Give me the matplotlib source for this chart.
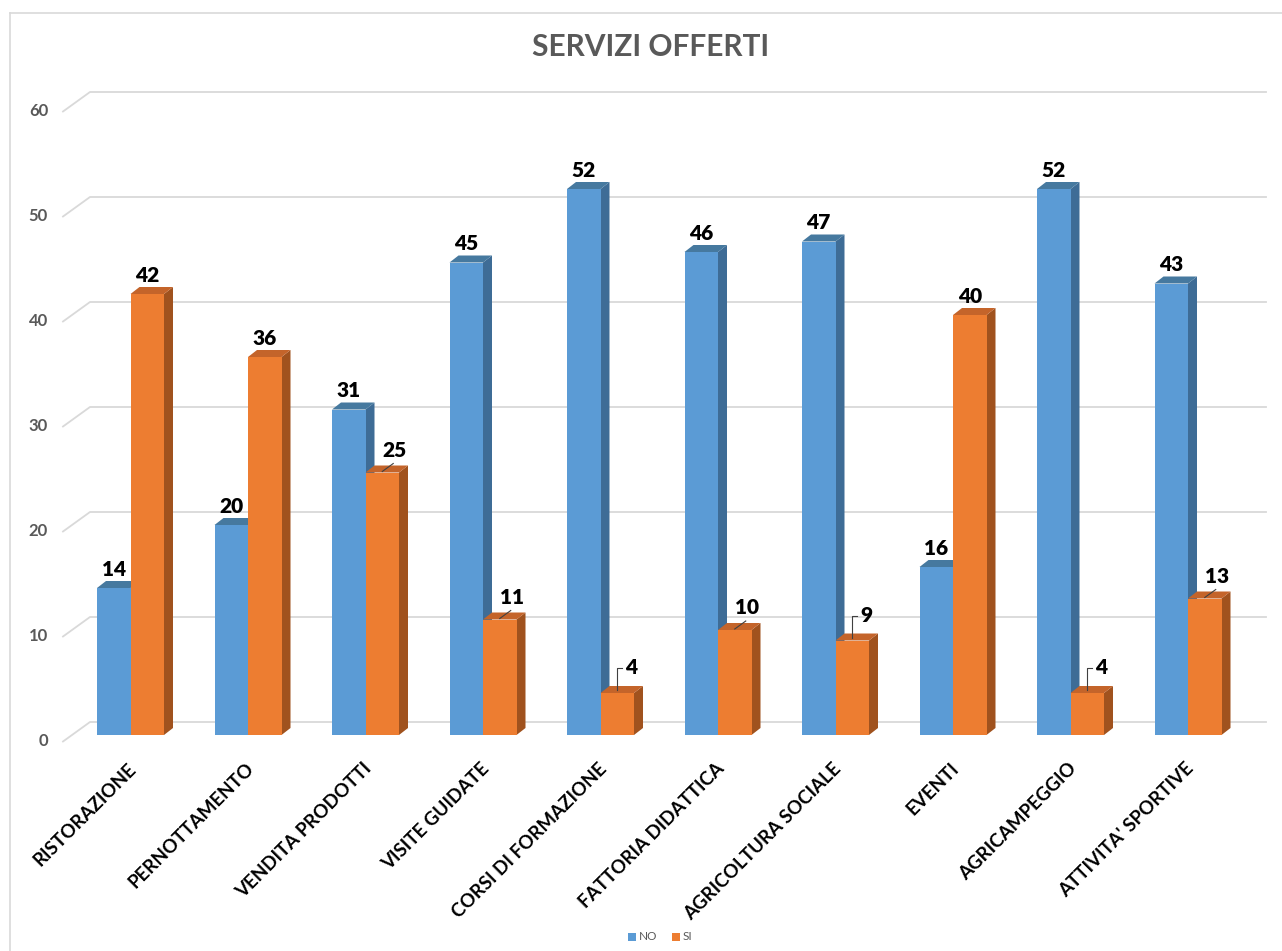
import matplotlib.pyplot as plt
from matplotlib.patches import Polygon, Rectangle

# data
categories = ["RISTORAZIONE", "PERNOTTAMENTO", "VENDITA PRODOTTI", "VISITE GUIDATE",
              "CORSI DI FORMAZIONE", "FATTORIA DIDATTICA", "AGRICOLTURA SOCIALE",
              "EVENTI", "AGRICAMPEGGIO", "ATTIVITA' SPORTIVE"]
no_values = [14, 20, 31, 45, 52, 46, 47, 16, 52, 43]
si_values = [42, 36, 25, 11, 4, 10, 9, 40, 4, 13]
y_ticks = [0, 10, 20, 30, 40, 50, 60]
series_names = ["NO", "SI"]

plt.rcParams['font.family'] = ['Lato', 'DejaVu Sans']

W, H = 1282, 951
fig = plt.figure(figsize=(W / 100, H / 100), dpi=100)
ax = fig.add_axes([0, 0, 1, 1])

# one category = 117.5 px, one unit = 10.5 px (front face of the bars)
sx, sy = 117.5, 10.5
x0_px, y0_px = 130.5, 735
ax.set_xlim(-x0_px / sx, (W - x0_px) / sx)
ax.set_ylim((y0_px - H) / sy, y0_px / sy)
ax.axis('off')


def X(p):
    return (p - x0_px) / sx


def Y(p):
    return (y0_px - p) / sy


def px(n):
    return n / sx


def py(n):
    return n / sy


bw = px(33.5)
dx, dy = px(9), py(7)
grid_c = '#D9D9D9'
text_c = '#595959'

# frame
ax.plot([X(10), X(10)], [Y(13), Y(H + 5)], color=grid_c, lw=1.2, zorder=0)
ax.plot([X(10), X(W + 5)], [Y(13), Y(13)], color=grid_c, lw=1.2, zorder=0)

# back wall gridlines with perspective floor segment
for t in y_ticks:
    ax.plot([X(63), X(90), X(1266)], [t - py(6.5), t + py(13), t + py(13)],
            color=grid_c, lw=1.3, zorder=1)
    ax.text(X(48), t - py(6), str(t), ha='right', va='center',
            fontsize=12, fontweight='bold', color=text_c)


def draw_bar(x_left, v, front, side, top):
    ax.add_patch(Polygon([(x_left + bw, 0), (x_left + bw + dx, dy),
                          (x_left + bw + dx, v + dy), (x_left + bw, v)],
                         closed=True, facecolor=side, edgecolor='none', zorder=2))
    ax.add_patch(Polygon([(x_left, v), (x_left + dx, v + dy),
                          (x_left + bw + dx, v + dy), (x_left + bw, v)],
                         closed=True, facecolor=top, edgecolor='none', zorder=2))
    ax.add_patch(Rectangle((x_left, 0), bw, v, facecolor=front,
                           edgecolor='none', zorder=2))


blue = ('#5B9BD5', '#3E6C96', '#46799F')
orange = ('#ED7D31', '#A0521E', '#C4642A')

for i, (n, s) in enumerate(zip(no_values, si_values)):
    draw_bar(i - bw, n, *blue)
    draw_bar(i, s, *orange)

# value labels
lab_kw = dict(fontsize=15, fontweight='heavy', color='black', zorder=5)
for i, (n, s) in enumerate(zip(no_values, si_values)):
    ax.text(i - bw / 2, n + py(12), str(n), ha='center', va='baseline', **lab_kw)
    cx = i + bw / 2
    if s < 10:
        # elbow leader
        ax.plot([cx, cx, cx + px(5)], [s + py(3), s + py(25), s + py(25)],
                color='#404040', lw=0.8, zorder=4)
        ax.text(cx + px(8), s + py(25), str(s), ha='left', va='center', **lab_kw)
    elif s <= 25:
        # short diagonal leader
        ax.plot([cx, cx + px(11)], [s + py(1), s + py(9)],
                color='#404040', lw=0.8, zorder=4)
        ax.text(cx + px(12), s + py(22), str(s), ha='center', va='center', **lab_kw)
    else:
        ax.text(cx, s + py(12), str(s), ha='center', va='baseline', **lab_kw)

# category labels
for i, c in enumerate(categories):
    ax.text(i + px(3), Y(766), c, rotation=45, rotation_mode='anchor',
            ha='right', va='center', fontsize=13.5, fontweight='bold', color='black')

# title
ax.text(X(651), Y(47), "SERVIZI OFFERTI", ha='center', va='center',
        fontsize=21.5, fontweight='bold', color=text_c)

# legend
for k, (name, col) in enumerate(zip(series_names, (blue[0], orange[0]))):
    lx = 628 + 44 * k
    ax.add_patch(Rectangle((X(lx), Y(941)), px(8), py(8), facecolor=col, edgecolor='none'))
    ax.text(X(lx + 11), Y(937), name, ha='left', va='center', fontsize=8.5, color=text_c)

fig.savefig('out.png', dpi=100)
